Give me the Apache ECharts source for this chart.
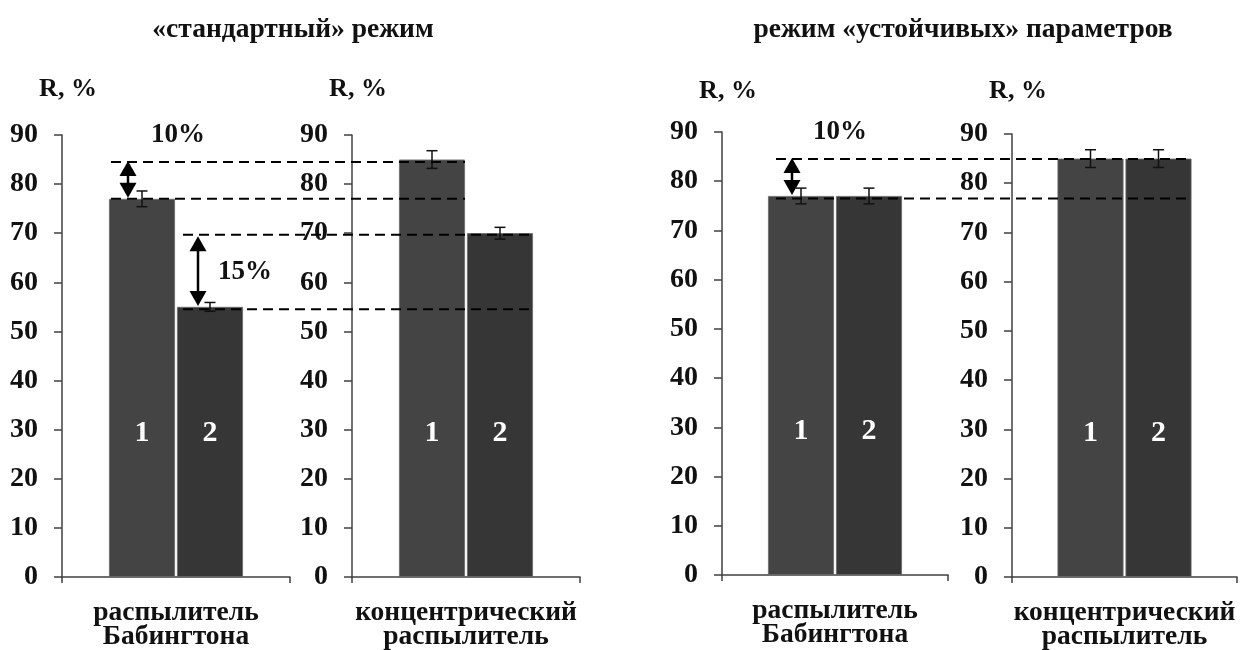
<!DOCTYPE html>
<html>
<head>
<meta charset="utf-8">
<script src="https://cdn.jsdelivr.net/npm/echarts@6/dist/echarts.min.js"></script>
<style>html,body{margin:0;padding:0;background:#fff;}#c{width:1247px;height:650px;}</style>
</head>
<body>
<div id="c"></div>
<script>
// ---- data ----
const panelTitles = ['«стандартный» режим', 'режим «устойчивых» параметров'];
const categories = ['распылитель\nБабингтона', 'концентрический\nраспылитель', 'распылитель\nБабингтона', 'концентрический\nраспылитель'];
const series1Values = [77, 85, 77, 85];
const series2Values = [55, 70, 77, 85];
const series1Errors = [1.6, 1.8, 1.6, 1.8];
const series2Errors = [0.9, 1.2, 1.6, 1.8];
const barNames = ['1', '2'];
const yAxisName = 'R, %';
const yMin = 0, yMax = 90, yInterval = 10;
// dashed reference levels (value, from panel, to panel)
const refLevels = [84.5, 77, 69.7, 54.5, 84.5, 76.5];
const refFromPanel = [0, 0, 0, 0, 2, 2];
const refToPanel = [1, 1, 1, 1, 3, 3];
// arrows: panel, top value, bottom value, label
const arrowPanel = [0, 0, 2];
const arrowTop = [84.7, 69.4, 84.7];
const arrowBottom = [77.2, 55.2, 77.2];
const arrowLabels = ['10%', '15%', '10%'];
const arrowLabelLevel = [90.0, 62.0, 89.9];

// ---- style ----
const FONT = "'Liberation Serif','Times New Roman',serif";
const grids = [
  {left: 62, top: 135, width: 228, height: 442, outerBoundsMode: 'none'},
  {left: 352, top: 135, width: 228, height: 442, outerBoundsMode: 'none'},
  {left: 722, top: 132, width: 226, height: 443, outerBoundsMode: 'none'},
  {left: 1012, top: 134, width: 225, height: 443, outerBoundsMode: 'none'}
];
const nameGaps = [33, 33, 28, 30];
const BAR_W = 66, BAR_GAP = 2;
const OFF = (BAR_W + BAR_GAP) / 2;
const colors = ['#444444', '#363636'];

const chart = echarts.init(document.getElementById('c'));

const xAxes = [], yAxes = [], series = [];
grids.forEach((g, i) => {
  xAxes.push({
    type: 'category', gridIndex: i, data: [categories[i]],
    axisLine: {lineStyle: {color: '#404040', width: 1.5}},
    axisTick: {show: true, length: 6, interval: 0, lineStyle: {color: '#404040', width: 1.5}},
    axisLabel: {margin: 24, color: '#111', fontFamily: FONT, fontWeight: 'bold', fontSize: 27.5, lineHeight: 24, interval: 0}
  });
  yAxes.push({
    type: 'value', gridIndex: i, min: yMin, max: yMax, interval: yInterval,
    name: yAxisName, nameLocation: 'end', nameGap: nameGaps[i],
    nameTextStyle: {color: '#111', fontFamily: FONT, fontWeight: 'bold', fontSize: 26, align: 'center', padding: [0, 0, 0, 12]},
    splitLine: {show: false},
    axisLine: {show: true, lineStyle: {color: '#404040', width: 1.5}},
    axisTick: {show: true, length: 8, lineStyle: {color: '#404040', width: 1.5}},
    axisLabel: {margin: 24, color: '#111', fontFamily: FONT, fontWeight: 'bold', fontSize: 28}
  });
  const vals = [series1Values[i], series2Values[i]];
  const errs = [series1Errors[i], series2Errors[i]];
  [0, 1].forEach(k => {
    series.push({
      type: 'bar', xAxisIndex: i, yAxisIndex: i, data: [vals[k]],
      barWidth: BAR_W, barGap: (BAR_GAP / BAR_W * 100) + '%',
      itemStyle: {color: colors[k], borderColor: '#6a6a6a', borderWidth: 0.8},
      label: {show: true, position: 'insideBottom', distance: 129, formatter: barNames[k],
        color: '#fff', fontFamily: FONT, fontWeight: 'bold', fontSize: 30},
      silent: true, animation: false
    });
  });
  series.push({
    type: 'custom', xAxisIndex: i, yAxisIndex: i, animation: false, silent: true,
    data: [[0, vals[0], errs[0], -1], [0, vals[1], errs[1], 1]],
    renderItem: function (params, api) {
      const v = api.value(1), e = api.value(2), s = api.value(3);
      const hi = api.coord([api.value(0), v + e]);
      const lo = api.coord([api.value(0), v - e]);
      const x = hi[0] + s * OFF;
      const cap = 5.5;
      const st = {stroke: '#111', lineWidth: 1.5};
      return {type: 'group', z2: 10, children: [
        {type: 'line', shape: {x1: x, y1: hi[1], x2: x, y2: lo[1]}, style: st},
        {type: 'line', shape: {x1: x - cap, y1: hi[1], x2: x + cap, y2: hi[1]}, style: st},
        {type: 'line', shape: {x1: x - cap, y1: lo[1], x2: x + cap, y2: lo[1]}, style: st}
      ]};
    },
    z: 5
  });
});

const option = {
  backgroundColor: '#fff',
  animation: false,
  title: [
    {text: panelTitles[0], left: 288, top: 11, textAlign: 'center',
      textStyle: {color: '#111', fontFamily: FONT, fontWeight: 'bold', fontSize: 27.5}},
    {text: panelTitles[1], left: 958, top: 11, textAlign: 'center',
      textStyle: {color: '#111', fontFamily: FONT, fontWeight: 'bold', fontSize: 27.5}}
  ],
  grid: grids,
  xAxis: xAxes,
  yAxis: yAxes,
  series: series
};
chart.setOption(option);

// ---- overlays computed via the chart's own scales ----
function cx(p) { return chart.convertToPixel({xAxisIndex: p}, 0); }
function cy(p, v) { return chart.convertToPixel({yAxisIndex: p}, v); }
const refStartOff = [-65, -65, 7, 7, -59, -59];
const refEndOff = [-1, -1, 68, 68, 67, 67];
const arrowXOff = [-48, 22, -43];
const labelXOff = [50, 47, 48];
const graphics = [];
refLevels.forEach((v, i) => {
  const y = cy(refFromPanel[i], v);
  graphics.push({type: 'line', z: 100, silent: true,
    shape: {x1: cx(refFromPanel[i]) + refStartOff[i], y1: y, x2: cx(refToPanel[i]) + refEndOff[i], y2: y},
    style: {stroke: '#000', lineWidth: 2, lineDash: [10, 6]}});
});
arrowPanel.forEach((p, i) => {
  const x = cx(p) + arrowXOff[i];
  const yt = cy(p, arrowTop[i]), yb = cy(p, arrowBottom[i]);
  const hw = 8.5, hh = 15;
  graphics.push({type: 'line', z: 101, silent: true,
    shape: {x1: x, y1: yt + hh - 2, x2: x, y2: yb - hh + 2}, style: {stroke: '#000', lineWidth: 2.5}});
  graphics.push({type: 'polygon', z: 101, silent: true,
    shape: {points: [[x, yt], [x - hw, yt + hh], [x + hw, yt + hh]]}, style: {fill: '#000'}});
  graphics.push({type: 'polygon', z: 101, silent: true,
    shape: {points: [[x, yb], [x - hw, yb - hh], [x + hw, yb - hh]]}, style: {fill: '#000'}});
  graphics.push({type: 'text', z: 102, silent: true,
    x: x + labelXOff[i], y: cy(p, arrowLabelLevel[i]),
    style: {text: arrowLabels[i], fill: '#111', font: 'bold 27px ' + FONT, align: 'center', verticalAlign: 'middle'}});
});
chart.setOption({graphic: graphics});
</script>
</body>
</html>
